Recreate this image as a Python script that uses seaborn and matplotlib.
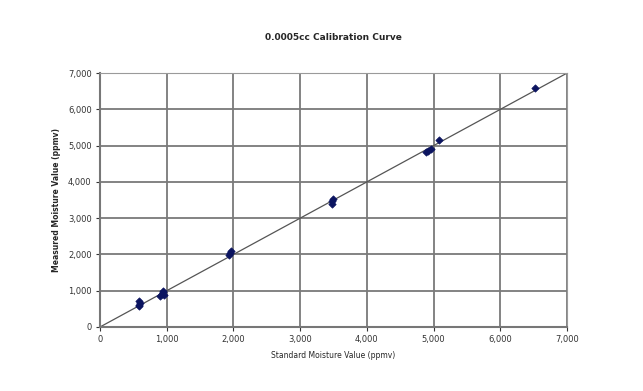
import pandas as pd
import matplotlib.pyplot as plt
import seaborn as sns
from matplotlib.ticker import FuncFormatter

# Calibration readings (ppmv)
standard = [590, 590, 595, 590, 905, 925, 940, 950, 960,
            1940, 1950, 1960, 3470, 3480, 3490,
            4880, 4920, 4960, 5080, 6520]
measured = [570, 620, 670, 720, 860, 900, 960, 1000, 880,
            1980, 2040, 2100, 3400, 3470, 3520,
            4830, 4860, 4900, 5150, 6590]
ideal = [0, 7000]

df = pd.DataFrame({'standard': standard, 'measured': measured})
line = pd.DataFrame({'x': ideal, 'y': ideal})

sns.set_style('white')
fig = plt.figure(figsize=(6.43, 3.91), dpi=100)
ax = fig.add_axes([0.1555, 0.1637, 0.7265, 0.6495])

sns.lineplot(data=line, x='x', y='y', color='#555555', linewidth=0.9, ax=ax)
sns.scatterplot(data=df, x='standard', y='measured', marker='D', s=14,
                color='#0b1460', edgecolor='#0b1460', linewidth=0.5, ax=ax, zorder=3)

ax.set_xlim(0, 7000)
ax.set_ylim(0, 7000)
ax.set_xticks(range(0, 7001, 1000))
ax.set_yticks(range(0, 7001, 1000))
fmt = FuncFormatter(lambda v, p: f'{int(v):,}')
ax.xaxis.set_major_formatter(fmt)
ax.yaxis.set_major_formatter(fmt)
ax.grid(True, color='#7a7a7a', linewidth=1.3)
ax.set_axisbelow(True)
for side in ['top', 'right']:
    ax.spines[side].set_color('#9a9a9a')
    ax.spines[side].set_linewidth(0.8)
for side in ['left', 'bottom']:
    ax.spines[side].set_color('#777777')
    ax.spines[side].set_linewidth(1.5)
ax.tick_params(axis='both', labelsize=6, colors='#333333', length=3, width=0.8,
               direction='out', pad=3)
ax.tick_params(axis='both', bottom=True, left=True)

ax.set_title('0.0005cc Calibration Curve', fontsize=6.5, fontweight='bold', pad=24)
ax.set_xlabel('Standard Moisture Value (ppmv)', fontsize=5.5, labelpad=5)
ax.set_ylabel('Measured Moisture Value (ppmv)', fontsize=5.5, fontweight='bold', labelpad=5)

plt.savefig('out.png', dpi=100)
